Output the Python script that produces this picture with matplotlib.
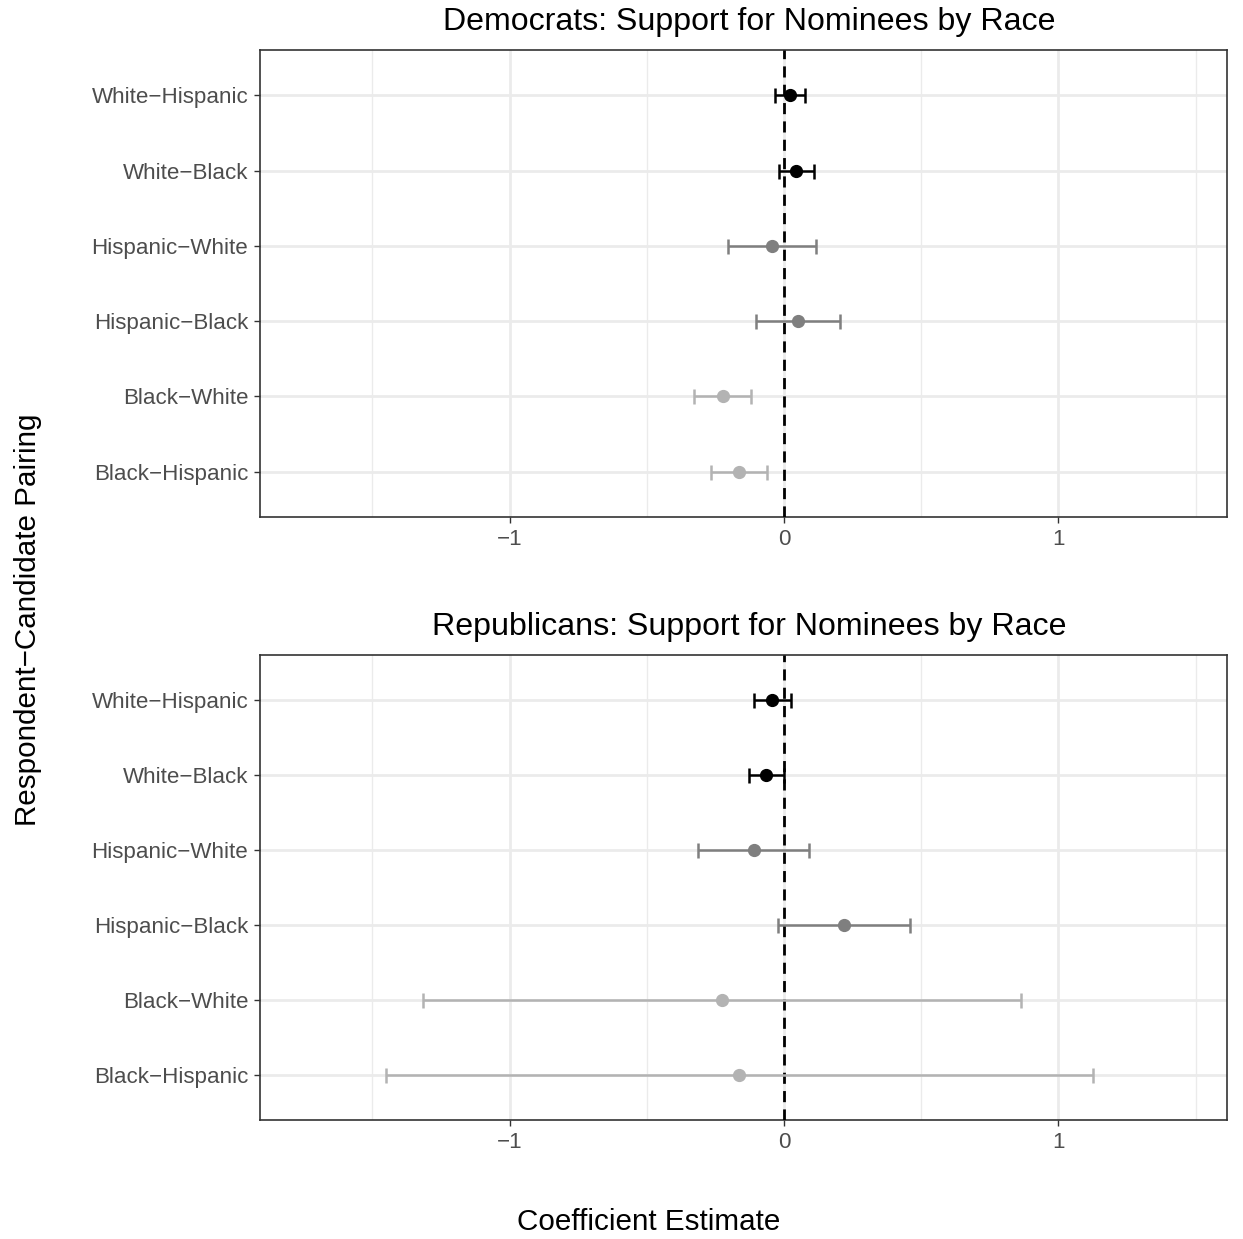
import matplotlib.pyplot as plt

plt.rcParams['font.family'] = ['Liberation Sans', 'DejaVu Sans']

# categories, top to bottom as shown
pairings = ['White\u2212Hispanic', 'White\u2212Black', 'Hispanic\u2212White',
            'Hispanic\u2212Black', 'Black\u2212White', 'Black\u2212Hispanic']
shades = ['#000000', '#000000', '#7F7F7F', '#7F7F7F', '#B3B3B3', '#B3B3B3']

dem_est = [0.022, 0.044, -0.045, 0.050, -0.223, -0.163]
dem_lo = [-0.031, -0.017, -0.203, -0.103, -0.327, -0.266]
dem_hi = [0.078, 0.109, 0.115, 0.205, -0.119, -0.061]

rep_est = [-0.043, -0.067, -0.110, 0.219, -0.227, -0.163]
rep_lo = [-0.109, -0.126, -0.312, -0.021, -1.314, -1.449]
rep_hi = [0.024, 0.000, 0.091, 0.459, 0.863, 1.127]

panels = [
    ('Democrats: Support for Nominees by Race', dem_est, dem_lo, dem_hi),
    ('Republicans: Support for Nominees by Race', rep_est, rep_lo, rep_hi),
]

W, H = 1243, 1239
fig = plt.figure(figsize=(W / 100, H / 100), dpi=100)

boxes = [(50, 517), (655, 1120)]
left_px, right_px = 260, 1227

for (title, est, lo, hi), (top, bot) in zip(panels, boxes):
    ax = fig.add_axes([left_px / W, 1 - bot / H, (right_px - left_px) / W, (bot - top) / H])
    n = len(pairings)
    ypos = list(range(n, 0, -1))

    ax.axvline(0, color='black', lw=2.0, ls=(0, (4, 2.6)), zorder=3)
    for y, e, l, h, c in zip(ypos, est, lo, hi, shades):
        ax.errorbar(e, y, xerr=[[e - l], [h - e]], fmt='o', color=c, ms=8.5,
                    elinewidth=1.8, capsize=5.4, capthick=1.8, zorder=4)

    ax.set_xlim(-1.909, 1.614)
    ax.set_ylim(0.4, n + 0.6)
    ax.set_yticks(ypos)
    ax.set_yticklabels(pairings)
    ax.set_xticks([-1, 0, 1])
    ax.set_xticklabels(['\u22121', '0', '1'])
    ax.set_xticks([-1.5, -0.5, 0.5, 1.5], minor=True)

    ax.grid(True, which='major', color='#EBEBEB', lw=2.0, zorder=0)
    ax.grid(True, which='minor', axis='x', color='#EBEBEB', lw=1.0, zorder=0)
    ax.set_axisbelow(True)
    ax.tick_params(which='major', length=4.5, width=1.0, color='#333333',
                   labelcolor='#4D4D4D', labelsize=16.1, pad=4)
    ax.tick_params(which='minor', length=0)
    for sp in ax.spines.values():
        sp.set_color('#333333')
        sp.set_linewidth(1.2)

    fig.text(749 / W, 1 - (top - 28) / H, title, ha='center', va='center',
             fontsize=23.1, color='black')

fig.text(28 / W, 1 - 620 / H, 'Respondent\u2212Candidate Pairing', rotation=90,
         ha='center', va='center', fontsize=21.3)
fig.text(649 / W, 1 - 1222 / H, 'Coefficient Estimate', ha='center', va='center',
         fontsize=21.3)

fig.savefig('out.png', dpi=100)
